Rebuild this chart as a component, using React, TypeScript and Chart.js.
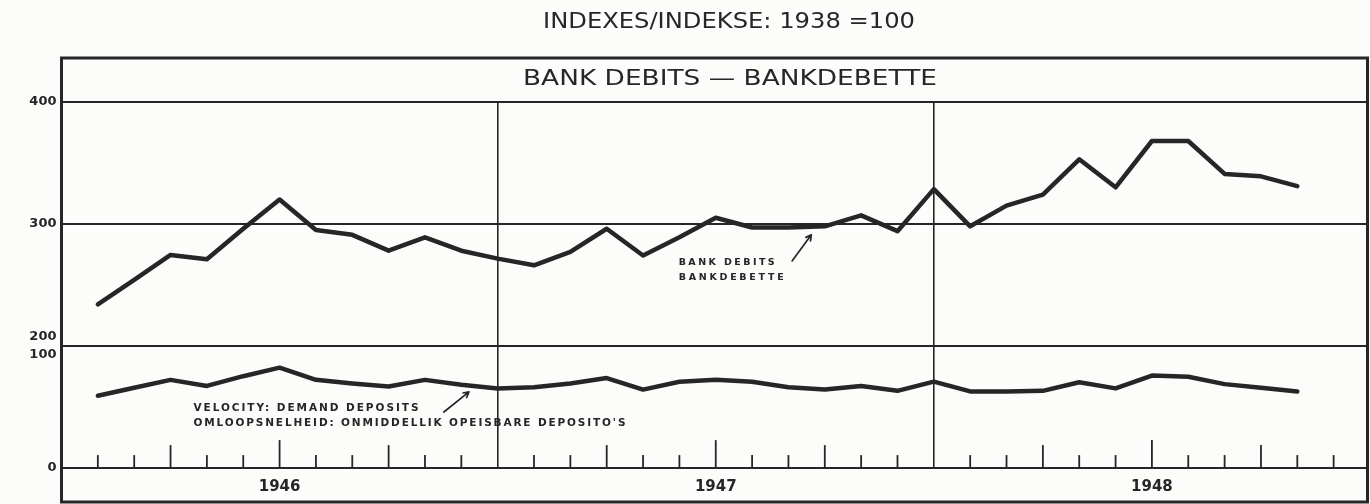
import React, { useEffect, useRef } from 'react';
import { Chart, registerables } from 'chart.js';

Chart.register(...registerables);

// ---- data (Jan 1946 – Oct 1948, monthly, plotted at month ends) ----
const months = [
  '1946-01', '1946-02', '1946-03', '1946-04', '1946-05', '1946-06', '1946-07', '1946-08', '1946-09', '1946-10', '1946-11', '1946-12',
  '1947-01', '1947-02', '1947-03', '1947-04', '1947-05', '1947-06', '1947-07', '1947-08', '1947-09', '1947-10', '1947-11', '1947-12',
  '1948-01', '1948-02', '1948-03', '1948-04', '1948-05', '1948-06', '1948-07', '1948-08', '1948-09', '1948-10',
];
const bankDebits = [
  234, 254, 274.5, 271, 296, 320, 295, 291, 278, 289, 278, 271.5,
  266, 277, 296, 274, 289, 305, 297, 297, 298, 307, 294, 328.5,
  298, 315, 324, 353, 330, 368, 368, 341, 339, 331,
];
const velocity = [
  59, 65.5, 72, 67, 75, 82, 72, 69, 66.5, 72, 68, 65,
  66, 69, 73.5, 64, 70.5, 72, 70.5, 66, 64, 67, 63, 70.5,
  62.5, 62.5, 63, 70, 65, 75.5, 74.5, 68.5, 65.5, 62.5,
];
const yearLabels = ['1946', '1947', '1948'];
const yTickValues = [0, 100, 200, 300];
const yTickLabels = [['0'], ['200', '100'], ['300'], ['400']];
const upperOffset = 100; // upper (bank debits) segment of the broken axis: 200–400 drawn over 100–300

const titleText = 'INDEXES/INDEKSE: 1938 =100';
const headerText = 'BANK DEBITS — BANKDEBETTE';
const bankNote = ['BANK DEBITS', 'BANKDEBETTE'];
const velocityNote = ['VELOCITY: DEMAND DEPOSITS', "OMLOOPSNELHEID: ONMIDDELLIK OPEISBARE DEPOSITO'S"];

const INK = '#262626';
const PAPER = '#fcfcfa';
const FONT = '"DejaVu Sans", sans-serif';

function fitText(
  ctx: CanvasRenderingContext2D,
  text: string,
  x: number,
  y: number,
  font: string,
  target: number,
  align: 'left' | 'center',
  mode: 'stretch' | 'space',
) {
  ctx.save();
  ctx.font = font;
  (ctx as any).letterSpacing = '0px';
  ctx.textAlign = 'left';
  ctx.textBaseline = 'middle';
  ctx.fillStyle = INK;
  const w0 = ctx.measureText(text).width;
  const left = align === 'center' ? x - target / 2 : x;
  if (mode === 'stretch') {
    const sx = target / w0;
    ctx.translate(left, y);
    ctx.scale(sx, 1);
    ctx.fillText(text, 0, 0);
  } else {
    const n = Array.from(text).length;
    const ls = n > 1 ? (target - w0) / (n - 1) : 0;
    (ctx as any).letterSpacing = ls + 'px';
    ctx.fillText(text, left, y);
  }
  ctx.restore();
}

function arrow(ctx: CanvasRenderingContext2D, x0: number, y0: number, x1: number, y1: number) {
  ctx.save();
  ctx.strokeStyle = INK;
  ctx.lineWidth = 1.7;
  ctx.lineCap = 'round';
  ctx.beginPath();
  ctx.moveTo(x0, y0);
  ctx.lineTo(x1, y1);
  const a = Math.atan2(y1 - y0, x1 - x0);
  const L = 6;
  ctx.moveTo(x1, y1);
  ctx.lineTo(x1 - L * Math.cos(a - 0.5), y1 - L * Math.sin(a - 0.5));
  ctx.moveTo(x1, y1);
  ctx.lineTo(x1 - L * Math.cos(a + 0.5), y1 - L * Math.sin(a + 0.5));
  ctx.stroke();
  ctx.restore();
}

const paperPlugin = {
  id: 'paper',
  beforeDraw(chart: any) {
    const { ctx, width, height } = chart;
    ctx.save();
    ctx.fillStyle = PAPER;
    ctx.fillRect(0, 0, width, height);
    ctx.restore();
  },
  afterDraw(chart: any) {
    const { ctx, chartArea } = chart;
    const xs = chart.scales.x;
    const ys = chart.scales.y;
    const base = ys.getPixelForValue(0);

    // outer frame (right edge sits just inside the end of the last month)
    const frameRight = chartArea.right - 2.5;
    ctx.save();
    ctx.fillStyle = PAPER;
    ctx.fillRect(frameRight, chartArea.top - 2, chart.width - frameRight, chartArea.bottom - chartArea.top + 4);
    ctx.strokeStyle = INK;
    ctx.lineWidth = 3;
    ctx.strokeRect(chartArea.left, 58, frameRight - chartArea.left, 502 - 58);
    ctx.restore();

    // month ticks rising from the baseline
    ctx.save();
    ctx.strokeStyle = INK;
    ctx.lineWidth = 1.8;
    for (let m = 1; m < 36; m++) {
      const r = m % 12;
      if (r === 0) continue;
      const len = r === 6 ? 27.5 : r === 3 || r === 9 ? 22.5 : 12.5;
      const x = xs.getPixelForValue(m);
      ctx.beginPath();
      ctx.moveTo(x, base);
      ctx.lineTo(x, base - len);
      ctx.stroke();
    }
    ctx.restore();

    // titles
    fitText(ctx, titleText, 729, 23, `21px ${FONT}`, 372, 'center', 'stretch');
    fitText(ctx, headerText, 730, 80, `21px ${FONT}`, 414, 'center', 'stretch');

    // series notes (anchored in data units)
    const bx = xs.getPixelForValue(16.98);
    const by = ys.getPixelForValue(268 - upperOffset);
    fitText(ctx, bankNote[0], bx, by, `bold 9.5px ${FONT}`, 96, 'left', 'space');
    fitText(ctx, bankNote[1], bx, by + 15, `bold 9.5px ${FONT}`, 105, 'left', 'space');
    arrow(ctx, xs.getPixelForValue(20.1), ys.getPixelForValue(269.6 - upperOffset), xs.getPixelForValue(20.63), ys.getPixelForValue(291 - upperOffset));

    const vx = xs.getPixelForValue(3.63);
    const vy = ys.getPixelForValue(49);
    fitText(ctx, velocityNote[0], vx, vy, `bold 10.5px ${FONT}`, 225, 'left', 'space');
    fitText(ctx, velocityNote[1], vx, vy + 15, `bold 10.5px ${FONT}`, 432, 'left', 'space');
    arrow(ctx, xs.getPixelForValue(10.52), ys.getPixelForValue(45.6), xs.getPixelForValue(11.21), ys.getPixelForValue(62.1));
  },
};

export default function App() {
  const ref = useRef<HTMLCanvasElement | null>(null);

  useEffect(() => {
    document.body.style.margin = '0';
    const canvas = ref.current;
    if (!canvas) return;
    const lineStyle = {
      borderColor: INK,
      borderWidth: 4.5,
      pointRadius: 0,
      tension: 0,
      borderJoinStyle: 'round' as const,
      borderCapStyle: 'round' as const,
      fill: false,
    };
    const chart = new Chart(canvas, {
      type: 'line',
      data: {
        datasets: [
          { label: 'Bank debits', data: bankDebits.map((v, i) => ({ x: i + 1, y: v - upperOffset, m: months[i] })), ...lineStyle },
          { label: 'Velocity', data: velocity.map((v, i) => ({ x: i + 1, y: v, m: months[i] })), ...lineStyle },
        ],
      },
      options: {
        responsive: false,
        animation: false,
        devicePixelRatio: 1,
        layout: { padding: { top: 102, right: 0, left: 0, bottom: 0 } },
        plugins: { legend: { display: false }, tooltip: { enabled: false }, title: { display: false } },
        scales: {
          x: {
            type: 'linear',
            min: 0,
            max: 36,
            afterBuildTicks: (s: any) => {
              s.ticks = Array.from({ length: 37 }, (_, i) => ({ value: i }));
            },
            afterFit: (s: any) => {
              s.height = 36.4;
            },
            ticks: {
              autoSkip: false,
              maxRotation: 0,
              padding: 0,
              color: INK,
              font: { family: FONT, size: 15, weight: 'bold', lineHeight: 2.6 },
              callback: (v: any) => {
                const m = Number(v);
                return m % 12 === 6 ? yearLabels[(m - 6) / 12] : '';
              },
            },
            grid: {
              drawTicks: false,
              lineWidth: 1.6,
              color: (c: any) => {
                const v = c.tick ? c.tick.value : -1;
                return v % 12 === 0 && v > 0 && v < 36 ? INK : 'rgba(0,0,0,0)';
              },
            },
            border: { display: false },
          },
          y: {
            min: 0,
            max: 300,
            afterBuildTicks: (s: any) => {
              s.ticks = yTickValues.map((v) => ({ value: v }));
            },
            afterFit: (s: any) => {
              s.width = 61.5;
            },
            ticks: {
              padding: 5,
              color: INK,
              font: { family: FONT, size: 13, weight: 'bold', lineHeight: 1.35 },
              callback: (v: any) => yTickLabels[yTickValues.indexOf(Number(v))],
            },
            grid: { drawTicks: false, color: INK, lineWidth: 2 },
            border: { display: false },
          },
        },
      } as any,
      plugins: [paperPlugin],
    });
    return () => chart.destroy();
  }, []);

  return (
    <div style={{ width: 1370, height: 504, background: PAPER }}>
      <canvas ref={ref} width={1370} height={504} style={{ display: 'block' }} />
    </div>
  );
}
